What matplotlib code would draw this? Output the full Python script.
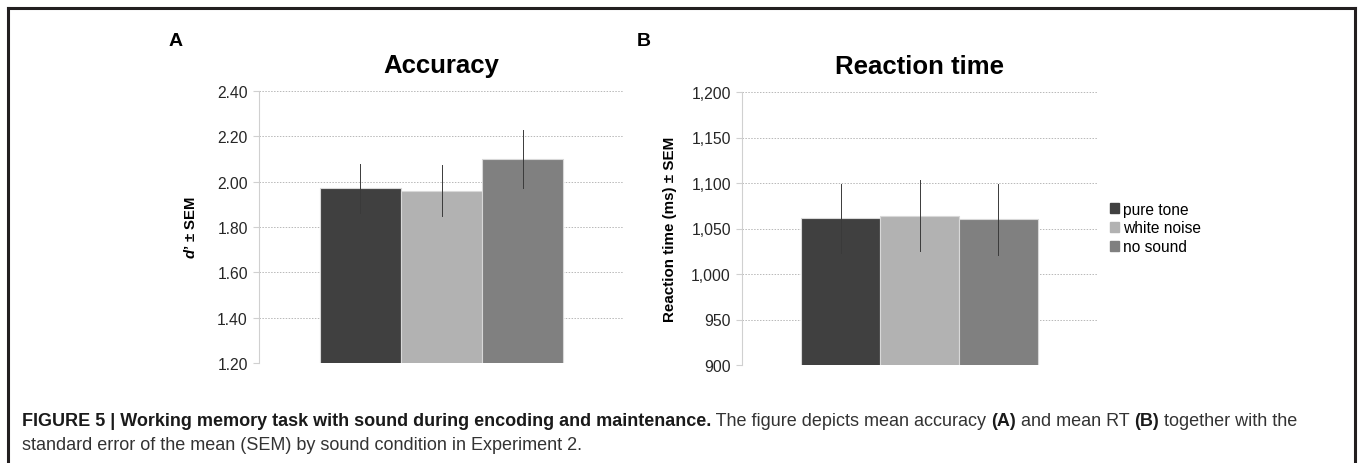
import matplotlib.pyplot as plt
from matplotlib.lines import Line2D

plt.rcParams['font.family'] = ['Liberation Sans', 'DejaVu Sans']
plt.rcParams['mathtext.fontset'] = 'custom'
plt.rcParams['mathtext.bfit'] = 'Liberation Sans:italic:bold'
plt.rcParams['mathtext.rm'] = 'Liberation Sans'

# data
conditions = ['pure tone', 'white noise', 'no sound']
colors = ['#404040', '#b2b2b2', '#808080']
acc_mean = [1.97, 1.96, 2.10]
acc_sem = [0.107, 0.113, 0.128]
rt_mean = [1061, 1064, 1060]
rt_sem = [38, 39, 39]
acc_ticks = [1.20, 1.40, 1.60, 1.80, 2.00, 2.20, 2.40]
rt_ticks = [900, 950, 1000, 1050, 1100, 1150, 1200]

W, H = 1360, 464
fig = plt.figure(figsize=(W / 100, H / 100), dpi=100)


def bar_panel(ax, means, sems, ticks, fmt, title):
    x = [-1, 0, 1]
    ax.bar(x, means, width=1.0, color=colors, edgecolor='#d8d8d8', linewidth=0.8, zorder=2)
    for xi, m, s in zip(x, means, sems):
        ax.plot([xi, xi], [m - s, m + s], color='#3a3a3a', lw=0.7, zorder=3)
    ax.set_xlim(-2.25, 2.25)
    ax.set_ylim(ticks[0], ticks[-1])
    ax.set_yticks(ticks)
    ax.set_yticklabels([fmt(t) for t in ticks], fontsize=11.3, color='#262626')
    ax.set_xticks([])
    ax.grid(axis='y', linestyle=(0, (1.5, 1.5)), color='#b8b8b8', lw=0.7, zorder=0)
    for s in ['top', 'right', 'bottom']:
        ax.spines[s].set_visible(False)
    ax.spines['left'].set_color('#d0d0d0')
    ax.tick_params(axis='y', length=4, color='#d0d0d0', pad=4)
    ax.set_title(title, fontsize=18.5, fontweight='bold', pad=14)


axA = fig.add_axes([259 / W, 1 - 364 / H, 365 / W, 272 / H])
bar_panel(axA, acc_mean, acc_sem, acc_ticks, lambda t: f'{t:.2f}', 'Accuracy')
axA.set_ylabel(r"$\mathbfit{d}$’ ± SEM", fontsize=10.7, fontweight='bold', labelpad=14)

axB = fig.add_axes([742 / W, 1 - 366 / H, 355 / W, 273 / H])
bar_panel(axB, rt_mean, rt_sem, rt_ticks, lambda t: f'{t:,.0f}', 'Reaction time')
axB.set_ylabel('Reaction time (ms) ± SEM', fontsize=10.9, fontweight='bold', labelpad=10)

handles = [plt.Rectangle((0, 0), 1, 1, color=c) for c in colors]
fig.legend(handles, conditions, loc='center left', bbox_to_anchor=(1096 / W, 1 - 229 / H),
           frameon=False, fontsize=11.2, handlelength=0.55, handleheight=0.55,
           handletextpad=0.3, labelspacing=0.25)

fig.text(169 / W, 1 - 41 / H, 'A', fontsize=14, fontweight='bold', va='center')
fig.text(637 / W, 1 - 41 / H, 'B', fontsize=14, fontweight='bold', va='center')

# frame around the figure
frame = dict(color='#231f20', lw=2.2, transform=fig.transFigure)
fig.add_artist(Line2D([8 / W, 8 / W], [0, 1 - 9 / H], **frame))
fig.add_artist(Line2D([8 / W, 1355 / W], [1 - 9 / H, 1 - 9 / H], **frame))
fig.add_artist(Line2D([1355 / W, 1355 / W], [0, 1 - 9 / H], **frame))

# caption, built from bold and normal runs chained one after another
line1 = [('FIGURE 5 | Working memory task with sound during encoding and maintenance.', 'bold', '#1a1a1a'),
         (' The figure depicts mean accuracy ', 'normal', '#333333'),
         ('(A)', 'bold', '#1a1a1a'),
         (' and mean RT ', 'normal', '#333333'),
         ('(B)', 'bold', '#1a1a1a'),
         (' together with the', 'normal', '#333333')]
line2 = 'standard error of the mean (SEM) by sound condition in Experiment 2.'
cap_size = 13

prev = fig.text(22 / W, 1 - 430 / H, line1[0][0], fontsize=cap_size, fontweight=line1[0][1],
                color=line1[0][2], va='bottom')
for txt, wt, col in line1[1:]:
    prev = axA.annotate(txt, xy=(1, 0), xycoords=prev, va='bottom', ha='left',
                        fontsize=cap_size, fontweight=wt, color=col, annotation_clip=False)
fig.text(22 / W, 1 - 454 / H, line2, fontsize=cap_size, color='#333333', va='bottom')

fig.savefig('out.png', dpi=100)
